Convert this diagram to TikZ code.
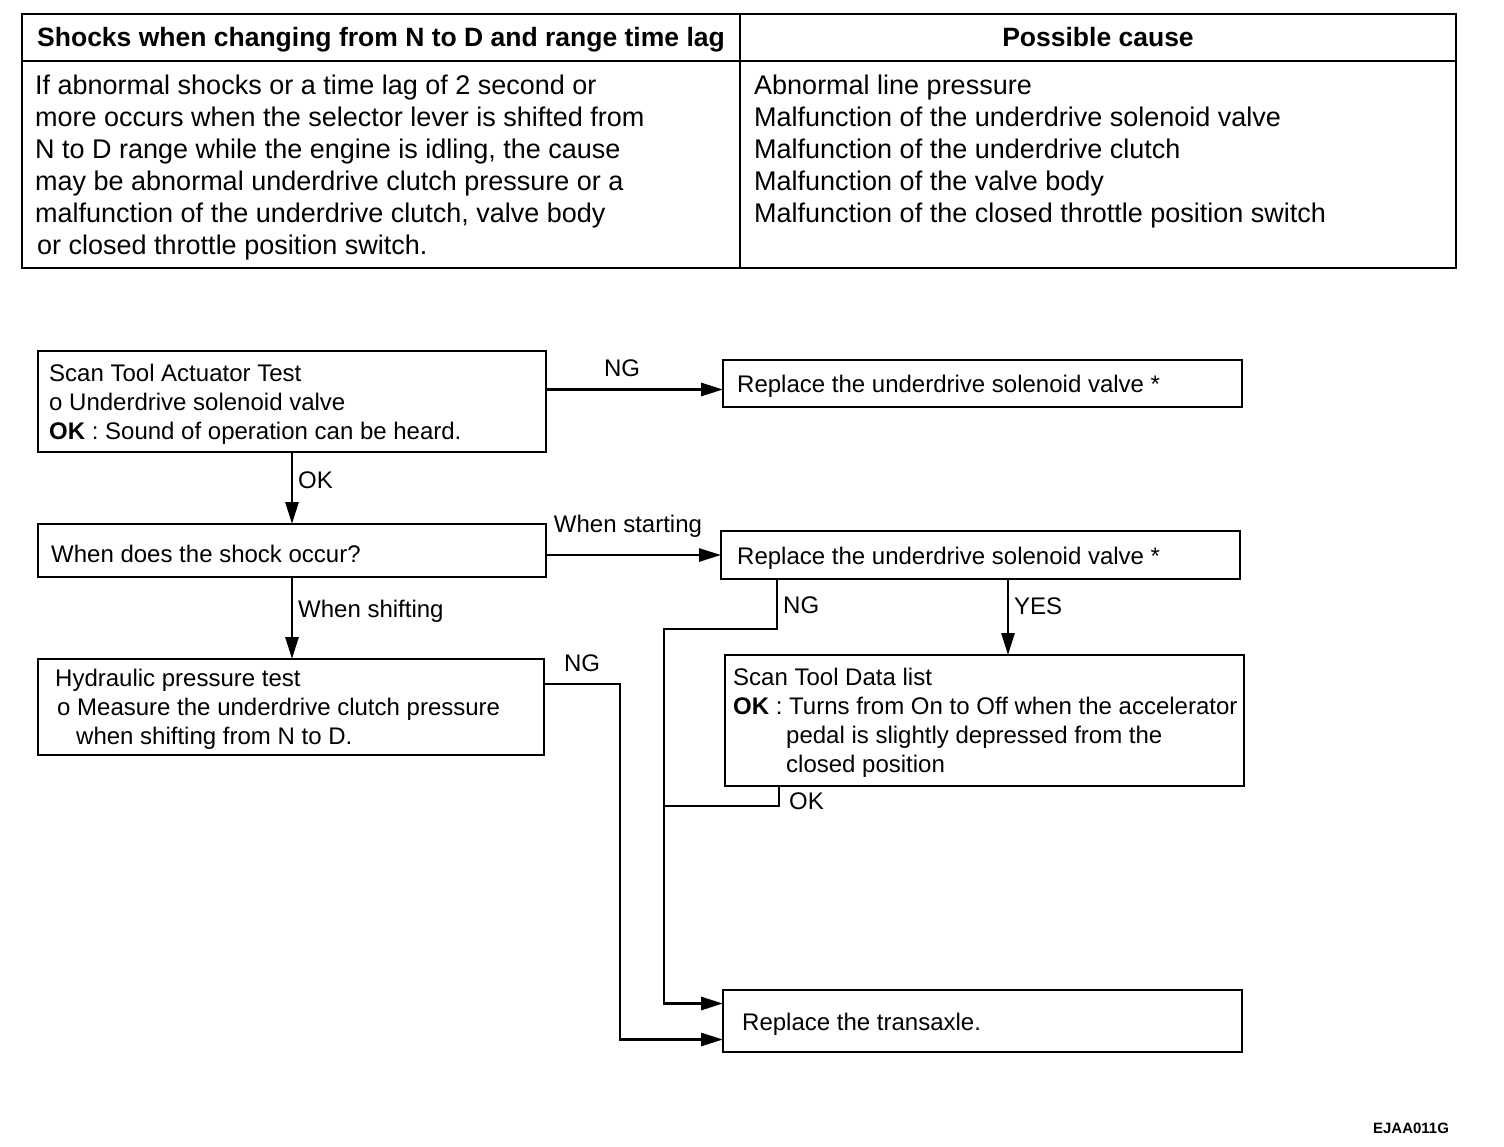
\documentclass[tikz,border=0pt]{standalone}
\usepackage{fontspec}
\setmainfont{Liberation Sans}
\usetikzlibrary{arrows.meta}
\newcommand\fcf{\fontsize{24}{29}\selectfont}
\newcommand\tbf{\fontsize{27}{32}\selectfont}
\newcommand\hdf{\fontsize{26.5}{32}\selectfont\bfseries}
\newcommand\lbf{\fontsize{24}{29}\selectfont}
\begin{document}
\begin{tikzpicture}[x=1pt,y=-1pt,
  box/.style={draw, line width=2.8pt, anchor=north west, outer sep=0pt, inner sep=0pt},
  txt/.style={anchor=west, align=left, inner sep=0pt, font=\fcf, yshift=-3pt},
  lbl/.style={inner sep=0pt, font=\lbf},
  conn/.style={line width=2.8pt},
  arr/.style={conn, -{Triangle[length=22pt,width=13pt]}},
  tline/.style={line width=2pt}]
\useasboundingbox (0,0) rectangle (1504,1146);
% ---- table ----
\node[box, line width=2pt, minimum width=1434pt, minimum height=254pt] (tbl) at (22,14) {};
\coordinate (hy) at (0,61);
\coordinate (cx) at (740,0);
\draw[tline] (tbl.west |- hy) -- (tbl.east |- hy);
\draw[tline] (tbl.north -| cx) -- (tbl.south -| cx);
\node[font=\hdf, inner sep=0pt, anchor=base] (h1) at (381,46) {Shocks when changing from N to D and range time lag};
\node[font=\hdf, inner sep=0pt, anchor=base] (h2) at (1098,46) {Possible cause};
\node[anchor=west, align=left, inner sep=0pt, font=\tbf] (b1) at (35,168)
  {\strut If abnormal shocks or a time lag of 2 second or\\
   more occurs when the selector lever is shifted from\\
   N to D range while the engine is idling, the cause\\
   may be abnormal underdrive clutch pressure or a\\
   malfunction of the underdrive clutch, valve body\\
   \hspace*{2pt}or closed throttle position switch.\strut};
\node[anchor=west, align=left, inner sep=0pt, font=\tbf] (b2) at (754,152)
  {\strut Abnormal line pressure\\
   Malfunction of the underdrive solenoid valve\\
   Malfunction of the underdrive clutch\\
   Malfunction of the valve body\\
   Malfunction of the closed throttle position switch\strut};
% ---- flowchart boxes ----
\node[box, minimum width=508pt, minimum height=101pt] (A) at (38,351) {};
\node[txt] (At) at ([xshift=11pt]A.west)
  {\strut Scan Tool Actuator Test\\ o Underdrive solenoid valve\\ \textbf{OK} : Sound of operation can be heard.\strut};
\node[box, minimum width=519pt, minimum height=47pt] (B) at (723,360) {};
\node[txt] (Bt) at ([xshift=14pt]B.west) {Replace the underdrive solenoid valve *};
\node[box, minimum width=508pt, minimum height=53pt] (C) at (38,524) {};
\node[txt] (Ct) at ([xshift=13pt]C.west) {When does the shock occur?};
\node[box, minimum width=519pt, minimum height=48pt] (D) at (721,531) {};
\node[txt] (Dt) at ([xshift=16pt]D.west) {Replace the underdrive solenoid valve *};
\node[box, minimum width=506pt, minimum height=96pt] (E) at (38,659) {};
\node[txt] (Et) at ([xshift=17pt]E.west)
  {\strut Hydraulic pressure test\\ \hspace*{2pt}o Measure the underdrive clutch pressure\\ \hspace*{21pt}when shifting from N to D.\strut};
\node[box, minimum width=519pt, minimum height=131pt] (F) at (725,655) {};
\node[txt] (Ft) at ([xshift=8pt]F.west)
  {\strut Scan Tool Data list\\ \textbf{OK} : Turns from On to Off when the accelerator\\ \hspace*{53pt}pedal is slightly depressed from the\\ \hspace*{53pt}closed position\strut};
\node[box, minimum width=519pt, minimum height=62pt] (G) at (723,990) {};
\node[txt] (Gt) at ([xshift=19pt]G.west) {Replace the transaxle.};
% ---- labels ----
\node[lbl] (lNG1) at (622,368) {NG};
\node[lbl, anchor=west] (lOK1) at (298,480) {OK};
\node[lbl] (lWS) at (628,526) {When starting};
\node[lbl, anchor=west] (lWSh) at (298,611) {When shifting};
\node[lbl] (lNG2) at (582,663) {NG};
\node[lbl, anchor=west] (lNG3) at (783,605) {NG};
\node[lbl, anchor=west] (lYES) at (1014,606) {YES};
\node[lbl, anchor=west] (lOK2) at (789,801) {OK};
\node[font=\fontsize{15}{18}\selectfont\bfseries, inner sep=0pt] (code) at (1411,1128) {EJAA011G};
% ---- connectors ----
\coordinate (bIn) at ([yshift=-6pt]B.west);
\draw[arr] (A.east |- bIn) -- (bIn);
\draw[arr] (A.south) -- (C.north);
\draw[arr] (C.east |- D.west) -- (D.west);
\draw[arr] (C.south) -- (C.south |- E.north);
\coordinate (yesx) at (1008,0);
\draw[arr] (D.south -| yesx) -- (F.north -| yesx);
\coordinate (j1) at (777,629);
\coordinate (j2) at (664,629);
\coordinate (gUp) at ([yshift=17.5pt]G.west);
\coordinate (gLow) at ([yshift=-18.5pt]G.west);
\draw[arr] (D.south -| j1) -- (j1) -- (j2) |- (gUp);
\coordinate (j3) at (779,806);
\draw[conn] (F.south -| j3) -- (j3) -- (j3 -| j2);
\coordinate (eOut) at ([yshift=23pt]E.east);
\coordinate (j4) at (620,0);
\draw[arr] (eOut) -- (eOut -| j4) |- (gLow);
\end{tikzpicture}
\end{document}
